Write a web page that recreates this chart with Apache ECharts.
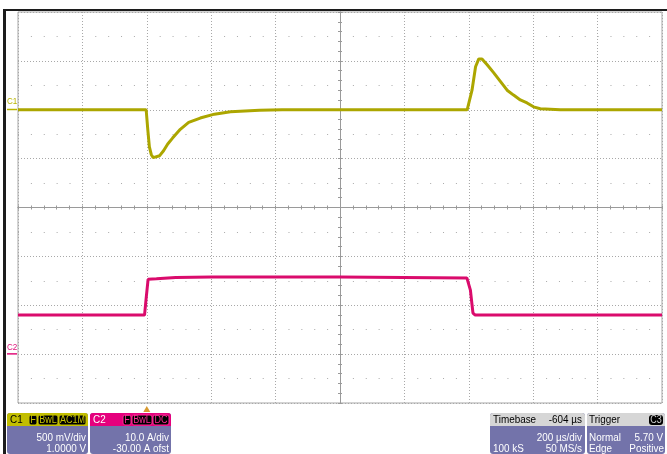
<!DOCTYPE html>
<html><head><meta charset="utf-8">
<script src="https://cdn.jsdelivr.net/npm/echarts@6/dist/echarts.min.js"></script>
<style>html,body{margin:0;padding:0;background:#fff}#c{width:667px;height:454px}</style>
</head><body><div id="c"></div>
<script>
// C1: time (µs from trigger) and voltage (V)
const c1Time = [-400, -2, 0, 3, 8, 14, 20, 26, 40, 52, 65, 80, 104, 130, 166, 210, 260, 350, 420, 700, 995, 1000, 1010, 1021, 1031, 1041, 1057, 1077, 1098, 1119, 1139, 1160, 1181, 1201, 1222, 1284, 1600];
const c1Volt = [0, 0, -0.02, -0.2, -0.38, -0.46, -0.49, -0.50, -0.47, -0.42, -0.35, -0.29, -0.20, -0.13, -0.085, -0.045, -0.02, -0.005, 0, 0, 0, 0, 0.20, 0.44, 0.52, 0.52, 0.46, 0.38, 0.29, 0.20, 0.15, 0.10, 0.07, 0.03, 0.01, 0, 0];
// C2: time (µs) and current (A)
const c2Time = [-400, -7, -2.5, 4, 30, 90, 200, 600, 994, 1005, 1010, 1013, 1020, 1600];
const c2Amp = [8.0, 8.0, 11.1, 15.3, 15.4, 15.7, 15.8, 15.8, 15.6, 13.1, 10.1, 8.4, 8.0, 8.0];

const FONT = '"Liberation Sans", Arial, sans-serif';
const chart = echarts.init(document.getElementById('c'), null, {renderer: 'canvas'});
const dotted = {color: '#a8a8a8', width: 1, type: [1, 2]};
const hid = {show: false};

function pairs(t, v) { return t.map((x, i) => [x, v[i]]); }

const option = {
  animation: false,
  backgroundColor: '#ffffff',
  grid: {left: 18, top: 12, width: 644, height: 391, show: true, borderColor: '#a6a6a6', borderWidth: 1, backgroundColor: 'transparent'},
  xAxis: [
    {type: 'value', min: -400, max: 1600, interval: 200, show: false},
    {type: 'value', min: -5, max: 5, interval: 1, position: 'bottom',
      axisLine: {show: true, onZero: true, onZeroAxisIndex: 2, lineStyle: {color: '#9a9a9a', width: 1}},
      axisTick: {show: true, inside: true, length: 2, lineStyle: {color: '#9a9a9a'}},
      minorTick: {show: true, splitNumber: 5, length: 2, lineStyle: {color: '#9a9a9a'}},
      axisLabel: hid, splitLine: {show: true, lineStyle: dotted}},
    {type: 'value', min: -5, max: 5, interval: 1, position: 'bottom',
      axisLine: {show: true, onZero: true, onZeroAxisIndex: 2, lineStyle: {color: '#9a9a9a', width: 1}},
      axisTick: {show: true, inside: false, length: 2, lineStyle: {color: '#9a9a9a'}},
      minorTick: {show: true, splitNumber: 5, length: 2, lineStyle: {color: '#9a9a9a'}},
      axisLabel: hid, splitLine: hid}
  ],
  yAxis: [
    {type: 'value', min: -3, max: 1, interval: 0.5, show: false},
    {type: 'value', min: -10, max: 70, interval: 10, show: false},
    {type: 'value', min: -4, max: 4, interval: 1, position: 'left',
      axisLine: hid, axisTick: hid, axisLabel: hid,
      splitLine: {show: true, lineStyle: dotted},
      minorSplitLine: {show: true, lineStyle: {color: '#aaaaaa', width: 1, type: [1, 11.88]}},
      minorTick: {show: false, splitNumber: 2}},
    {type: 'value', min: -4, max: 4, interval: 1, position: 'left',
      axisLine: {show: true, onZero: true, onZeroAxisIndex: 1, lineStyle: {color: '#9a9a9a', width: 1}},
      axisTick: {show: true, inside: true, length: 2, lineStyle: {color: '#9a9a9a'}},
      minorTick: {show: true, splitNumber: 5, length: 2, lineStyle: {color: '#9a9a9a'}},
      axisLabel: hid, splitLine: hid},
    {type: 'value', min: -4, max: 4, interval: 1, position: 'left',
      axisLine: {show: true, onZero: true, onZeroAxisIndex: 1, lineStyle: {color: '#9a9a9a', width: 1}},
      axisTick: {show: true, inside: false, length: 2, lineStyle: {color: '#9a9a9a'}},
      minorTick: {show: true, splitNumber: 5, length: 2, lineStyle: {color: '#9a9a9a'}},
      axisLabel: hid, splitLine: hid}
  ],
  series: [
    {name: 'C1', type: 'line', xAxisIndex: 0, yAxisIndex: 0, data: pairs(c1Time, c1Volt),
      showSymbol: false, lineStyle: {color: '#aca600', width: 3}, z: 5},
    {name: 'C2', type: 'line', xAxisIndex: 0, yAxisIndex: 1, data: pairs(c2Time, c2Amp),
      showSymbol: false, lineStyle: {color: '#da0b6c', width: 3}, z: 5}
  ]
};
chart.setOption(option);

// Decorations (scope frame and info boxes)
function txt(x, y, s, color, align, size, sx) {
  return {type: 'text', x: x, y: y, scaleX: sx || 0.9, z: 20,
    style: {text: s, fill: color, font: (size || 11) + 'px ' + FONT, textAlign: align || 'left', textVerticalAlign: 'middle'}};
}
function rect(x, y, w, h, fill, r, stroke) {
  return {type: 'rect', z: 15, shape: {x: x, y: y, width: w, height: h, r: r || 0},
    style: {fill: fill, stroke: stroke || null, lineWidth: 1}};
}
function badge(x, w, s, fg, y) {
  return [rect(x, (y || 415), w, 10, '#000', 2, fg), txt(x + w / 2, (y || 415) + 5.5, s, fg, 'center', 10, 0.9)];
}
const BODY = '#7373aa';
const g = [];
// frame
g.push(rect(3, 9, 664, 2, '#1c1c1c'));
g.push(rect(3, 9, 3, 445, '#1c1c1c'));
// channel labels
const y1 = chart.convertToPixel({yAxisIndex: 0}, 0);
const y2 = chart.convertToPixel({yAxisIndex: 1}, 0);
g.push(txt(7, y1 - 8, 'C1', '#b8b400', 'left', 9, 0.9));
g.push(rect(7, y1 - 1, 10, 1.5, '#b8b400'));
g.push(txt(7, y2 - 7, 'C2', '#e0107a', 'left', 9, 0.9));
g.push(rect(7, y2 - 1, 10, 1.5, '#e0107a'));
// trigger marker
const tx = chart.convertToPixel({xAxisIndex: 0}, 0);
g.push({type: 'polygon', z: 15, shape: {points: [[tx - 3.5, 412], [tx + 3.5, 412], [tx, 406]]}, style: {fill: '#d89a30'}});
// C1 box
g.push(rect(7, 413, 81, 41, BODY, 3));
g.push(rect(7, 413, 81, 13, '#c2be00', [3, 3, 0, 0]));
g.push(txt(10, 420, 'C1', '#000', 'left', 11));
g.push(...badge(29, 8, 'F', '#c8c400'), ...badge(38, 20, 'BwL', '#c8c400'), ...badge(59, 27, 'AC1M', '#c8c400'));
g.push(txt(86, 438, '500 mV/div', '#fff', 'right', 11));
g.push(txt(86, 449, '1.0000 V', '#fff', 'right', 11));
// C2 box
g.push(rect(90, 413, 81, 41, BODY, 3));
g.push(rect(90, 413, 81, 13, '#e5007d', [3, 3, 0, 0]));
g.push(txt(93, 420, 'C2', '#fff', 'left', 11));
g.push(...badge(123, 8, 'F', '#ff2a96'), ...badge(132, 20, 'BwL', '#ff2a96'), ...badge(153, 16, 'DC', '#ff2a96'));
g.push(txt(169, 438, '10.0 A/div', '#fff', 'right', 11));
g.push(txt(169, 449, '-30.00 A ofst', '#fff', 'right', 11));
// Timebase box
g.push(rect(490, 413, 95, 41, BODY, 3));
g.push(rect(490, 413, 95, 13, '#d6d6d6', [3, 3, 0, 0]));
g.push(txt(493, 420, 'Timebase', '#000', 'left', 11));
g.push(txt(582, 420, '-604 µs', '#000', 'right', 11));
g.push(txt(582, 438, '200 µs/div', '#fff', 'right', 11));
g.push(txt(493, 449, '100 kS', '#fff', 'left', 11));
g.push(txt(582, 449, '50 MS/s', '#fff', 'right', 11));
// Trigger box
g.push(rect(587, 413, 78, 41, BODY, 3));
g.push(rect(587, 413, 78, 13, '#d6d6d6', [3, 3, 0, 0]));
g.push(txt(589, 420, 'Trigger', '#000', 'left', 11));
g.push(rect(649, 415, 14, 10, '#000', 3));
g.push(txt(656, 420.5, 'C3', '#d0d0d0', 'center', 10, 0.9));
g.push(txt(589, 438, 'Normal', '#fff', 'left', 11));
g.push(txt(663, 438, '5.70 V', '#fff', 'right', 11));
g.push(txt(589, 449, 'Edge', '#fff', 'left', 11));
g.push(txt(664, 449, 'Positive', '#fff', 'right', 11));
chart.setOption({graphic: {elements: g}});
</script>
</body></html>
